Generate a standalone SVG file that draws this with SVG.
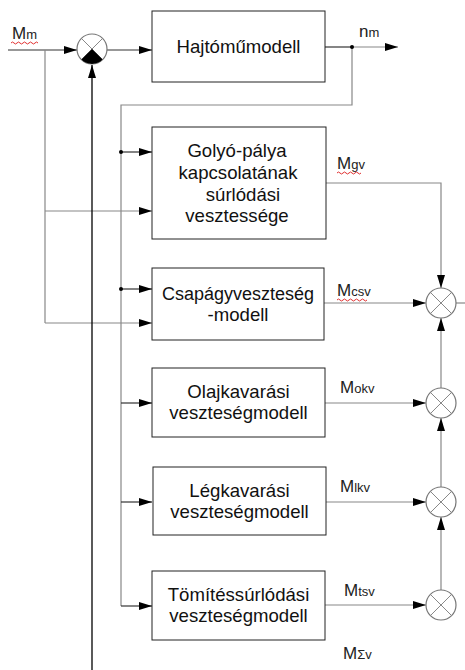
<svg xmlns="http://www.w3.org/2000/svg" width="465" height="670" viewBox="0 0 465 670">
<defs>
<marker id="ah" markerUnits="userSpaceOnUse" markerWidth="13" markerHeight="8" refX="13" refY="4" orient="auto">
<path d="M0,0 L13,4 L0,8 Z" fill="#000"/>
</marker>
<style>
.box{fill:#fff;stroke:#222;stroke-width:1}
.t{font-family:"Liberation Sans",Arial,sans-serif;font-size:18.6px;fill:#111;text-anchor:middle}
.lbl{font-family:"Liberation Sans",Arial,sans-serif;font-size:17px;fill:#222}
.sub{font-size:13px}
.ln{fill:none;stroke:#888;stroke-width:1.2}
.dk{fill:none;stroke:#333;stroke-width:1.2}
.arr{marker-end:url(#ah)}
.sum{fill:#fff;stroke:#777;stroke-width:1.2}
.x{stroke:#888;stroke-width:1}
.wavy{fill:none;stroke:#e03030;stroke-width:1}
</style>
</defs>
<rect width="465" height="670" fill="#fff"/>
<g id="connectors">
<path class="dk arr" d="M8,50 H77"/>
<path class="ln" d="M45,50 V323"/>
<path class="ln arr" d="M45,211 H152"/>
<path class="ln arr" d="M45,323 H152"/>
<path class="dk arr" d="M107,50 H152"/>
<path class="dk" d="M325,47 H352"/>
<path class="ln arr" d="M352,47 H398"/>
<path class="ln" d="M352,47 V105 H121 V606"/>
<path class="dk arr" d="M121,606 H152"/>
<path class="dk arr" d="M121,152 H152"/>
<path class="dk arr" d="M121,289 H152"/>
<path class="dk arr" d="M121,403 H152"/>
<path class="dk arr" d="M121,502 H152"/>
<path stroke="#000" stroke-width="1.3" fill="none" class="arr" d="M92,670 V65"/>
<path class="ln arr" d="M326,183 H441 V288"/>
<path class="ln arr" d="M324,303 H426"/>
<path class="ln" d="M456,303 H465"/>
<path class="ln arr" d="M325,403 H426"/>
<path class="ln arr" d="M326,502 H426"/>
<path class="ln arr" d="M325,605 H426"/>
<path class="ln arr" d="M441,590 V517"/>
<path class="ln arr" d="M441,487 V418"/>
<path class="ln arr" d="M441,388 V318"/>
<circle cx="121" cy="152" r="2" fill="#000"/>
<circle cx="121" cy="289" r="2" fill="#000"/>
<circle cx="352" cy="47" r="2" fill="#000"/>
</g>
<g id="sum0">
<circle class="sum" cx="92" cy="49" r="15" stroke="#444"/>
<path class="x" d="M81.4,38.4 L102.6,59.6 M102.6,38.4 L81.4,59.6" stroke="#444"/>
<path d="M92,49 L102.6,59.6 A15,15 0 0 1 81.4,59.6 Z" fill="#000"/>
</g>
<g id="sum1"><circle class="sum" cx="441" cy="303" r="15"/><path class="x" d="M430.4,292.4 L451.6,313.6 M451.6,292.4 L430.4,313.6"/></g>
<g id="sum2"><circle class="sum" cx="441" cy="403" r="15"/><path class="x" d="M430.4,392.4 L451.6,413.6 M451.6,392.4 L430.4,413.6"/></g>
<g id="sum3"><circle class="sum" cx="441" cy="502" r="15"/><path class="x" d="M430.4,491.4 L451.6,512.6 M451.6,491.4 L430.4,512.6"/></g>
<g id="sum4"><circle class="sum" cx="441" cy="605" r="15"/><path class="x" d="M430.4,594.4 L451.6,615.6 M451.6,594.4 L430.4,615.6"/></g>
<g id="hajtomu">
<rect class="box" x="152" y="11" width="173" height="71"/>
<text class="t" x="238.5" y="53">Hajtóműmodell</text>
</g>
<g id="golyo">
<rect class="box" x="152" y="127" width="174" height="112"/>
<text class="t" x="237" y="157">Golyó-pálya</text>
<text class="t" x="238" y="179">kapcsolatának</text>
<text class="t" x="243" y="201">súrlódási</text>
<text class="t" x="237" y="222">vesztessége</text>
</g>
<g id="csapagy">
<rect class="box" x="152" y="268" width="172" height="72"/>
<text class="t" x="238" y="300" style="font-size:18px">Csapágyveszteség</text>
<text class="t" x="238" y="321">-modell</text>
</g>
<g id="olaj">
<rect class="box" x="152" y="368" width="173" height="69"/>
<text class="t" x="238.5" y="398">Olajkavarási</text>
<text class="t" x="238.5" y="419">veszteségmodell</text>
</g>
<g id="leg">
<rect class="box" x="153" y="467" width="173" height="68"/>
<text class="t" x="239.5" y="497">Légkavarási</text>
<text class="t" x="239.5" y="518">veszteségmodell</text>
</g>
<g id="tomites">
<rect class="box" x="152" y="571" width="173" height="69"/>
<text class="t" x="238.5" y="601">Tömítéssúrlódási</text>
<text class="t" x="238.5" y="622">veszteségmodell</text>
</g>
<g id="labels">
<text class="lbl" x="12" y="39">M<tspan class="sub">m</tspan></text>
<path class="wavy" d="M11,43 q1.5,-2 3,0 t3,0 t3,0 t3,0 t3,0 t3,0 t3,0 t3,0 t3,0"/>
<text class="lbl" x="359" y="37">n<tspan class="sub">m</tspan></text>
<text class="lbl" x="337" y="169">M<tspan class="sub">gv</tspan></text>
<path class="wavy" d="M337,173 q1.5,-2 3,0 t3,0 t3,0 t3,0 t3,0 t3,0 t3,0 t3,0"/>
<text class="lbl" x="337" y="296">M<tspan class="sub">csv</tspan></text>
<path class="wavy" d="M337,300 q1.5,-2 3,0 t3,0 t3,0 t3,0 t3,0 t3,0 t3,0 t3,0 t3,0 t3,0"/>
<text class="lbl" x="340" y="393">M<tspan class="sub">okv</tspan></text>
<text class="lbl" x="340" y="492">M<tspan class="sub">lkv</tspan></text>
<text class="lbl" x="344" y="596">M<tspan class="sub">tsv</tspan></text>
<text class="lbl" x="343" y="659">M<tspan class="sub">Σv</tspan></text>
</g>
</svg>
